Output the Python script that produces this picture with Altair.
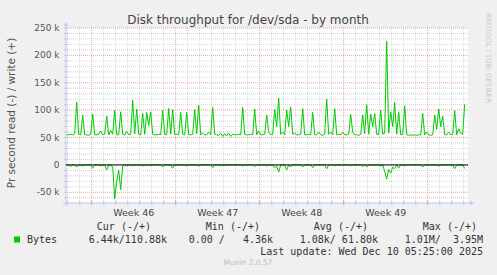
import altair as alt
import pandas as pd

# ---------------- data ----------------
title_text = "Disk throughput for /dev/sda - by month"
y_title = "Pr second read (-) / write (+)"
week_labels = ["Week 46", "Week 47", "Week 48", "Week 49"]
week_mid_hours = [84, 252, 420, 588]          # middle of each week (hours from week 46 start)
week_start_hours = [0, 168, 336, 504, 672]
day_hours = [h for h in range(-48, 745, 24) if h % 168 != 0]
y_major_values = [250000, 200000, 150000, 100000, 50000, 0, -50000]
y_major_labels = ["250 k", "200 k", "150 k", "100 k", "50 k", "0", "-50 k"]
y_minor_values = [v for v in range(-60000, 250001, 10000) if v % 50000 != 0]

# bytes/s in thousands, one sample every 4 hours, first sample 50 h before week 46 starts
write_k = [
    55, 55, 56, 55, 57, 115, 56, 55, 91, 55,
    55, 54, 56, 93, 55, 55, 56, 62, 55, 56,
    89, 55, 63, 56, 100, 55, 55, 97, 56, 55,
    61, 55, 56, 118, 57, 102, 56, 55, 94, 56,
    96, 72, 97, 56, 55, 55, 56, 55, 100, 56,
    55, 103, 56, 101, 55, 56, 55, 96, 56, 55,
    96, 55, 55, 56, 101, 57, 109, 55, 58, 55,
    55, 60, 55, 105, 56, 55, 54, 58, 52, 57,
    53, 58, 52, 56, 55, 55, 56, 55, 105, 56,
    55, 55, 56, 55, 102, 55, 62, 55, 55, 56,
    91, 60, 55, 56, 101, 70, 122, 56, 60, 55,
    100, 70, 106, 56, 58, 55, 55, 56, 103, 55,
    55, 56, 55, 96, 55, 55, 60, 55, 54, 56,
    120, 56, 60, 55, 103, 55, 56, 55, 60, 55,
    55, 56, 92, 60, 55, 55, 54, 56, 91, 57,
    110, 56, 93, 70, 94, 56, 55, 100, 56, 58,
    226, 58, 97, 70, 114, 56, 97, 55, 56, 108,
    55, 54, 55, 54, 55, 54, 55, 55, 94, 55,
    60, 55, 54, 55, 91, 65, 102, 70, 89, 55,
    55, 60, 55, 56, 99, 55, 66, 58, 56, 110.88,
]
read_k = [
    0, 0, -3, 0, 0, -4, 0, 0, -2, 0,
    0, 0, 0, -6, 0, 0, 0, -2, 0, 0,
    -9, 0, -1, -3, -62, -30, -10, -45, -2, 0,
    -2, 0, 0, -2, 0, -1, 0, 0, -2, 0,
    -1, 0, -1, 0, 0, 0, 0, 0, -4, 0,
    0, -1, 0, -6, 0, 0, 0, -1, 0, 0,
    -2, 0, 0, 0, -1, 0, -2, 0, 0, 0,
    0, 0, 0, -5, 0, 0, 0, -1, 0, -1,
    0, 0, 0, 0, 0, 0, 0, 0, -2, 0,
    0, 0, 0, 0, -3, 0, 0, 0, 0, 0,
    -2, 0, 0, 0, -5, -2, -13, 0, 0, 0,
    -9, 0, -4, 0, 0, 0, 0, 0, -4, 0,
    0, 0, 0, -5, 0, 0, 0, 0, 0, 0,
    -7, 0, 0, 0, -2, 0, 0, 0, 0, 0,
    0, 0, -2, 0, 0, 0, 0, 0, -3, 0,
    -4, 0, -1, 0, -1, 0, 0, -2, 0, -12,
    -26, -8, -15, -4, -7, 0, -6, 0, 0, -2,
    0, 0, 0, 0, 0, 0, 0, 0, -4, 0,
    0, 0, 0, 0, -1, 0, -2, 0, -1, 0,
    0, 0, 0, 0, -7, 0, 0, 0, 0, -6.44,
]

legend_headers = ["Cur (-/+)", "Min (-/+)", "Avg (-/+)", "Max (-/+)"]
legend_values = ["6.44k/110.88k", "0.00 /   4.36k", "1.08k/ 61.80k", "1.01M/  3.95M"]
series_name = "Bytes"
last_update = "Last update: Wed Dec 10 05:25:00 2025"
footer = "Munin 2.0.57"
watermark = "RRDTOOL / TOBI OETIKER"

# ---------------- layout ----------------
W, H = 402, 175
PAD_L, PAD_T, PAD_R, PAD_B = 66, 28, 29, 72
GREEN = "#00cc00"
AXIS_COL = "#c4c4ff"
MINOR_COL = "#d4d4d4"
MAJOR_COL = "#e9a3a3"
MONO = "DejaVu Sans Mono"
SANS = "DejaVu Sans"


def nb(s):
    return s.replace(" ", "\u00a0")


hours = [-50 + 4 * i for i in range(len(write_k))]
df = pd.DataFrame({
    "h": hours,
    "write": [v * 1000 for v in write_k],
    "read": [v * 1000 for v in read_k],
})

xscale = alt.Scale(domain=[-51.4, 752.6], nice=False, zero=False)
yscale = alt.Scale(domain=[-69500, 250000], nice=False, zero=False)
X = lambda f: alt.X(f, scale=xscale, axis=None)
Y = lambda f: alt.Y(f, scale=yscale, axis=None)

one = pd.DataFrame({"a": [0]})

# ---- grid ----
grid_y_minor = alt.Chart(pd.DataFrame({"v": y_minor_values})).mark_rule(
    color=MINOR_COL, strokeDash=[1, 1], strokeWidth=1).encode(y=Y("v:Q"))
grid_x_minor = alt.Chart(pd.DataFrame({"v": day_hours})).mark_rule(
    color=MINOR_COL, strokeDash=[1, 1], strokeWidth=1).encode(x=X("v:Q"))
grid_y_major = alt.Chart(pd.DataFrame({"v": y_major_values})).mark_rule(
    color=MAJOR_COL, strokeDash=[1, 1], strokeWidth=1).encode(y=Y("v:Q"))
grid_x_major = alt.Chart(pd.DataFrame({"v": week_start_hours})).mark_rule(
    color=MAJOR_COL, strokeDash=[1, 1], strokeWidth=1).encode(x=X("v:Q"))

# ---- axis lines, ticks, arrows ----
y_axis_line = alt.Chart(one).mark_rule(color=AXIS_COL, strokeWidth=1).encode(
    x=alt.value(0), y=alt.value(-4), y2=alt.value(H + 3))
x_axis_line = alt.Chart(one).mark_rule(color=AXIS_COL, strokeWidth=1).encode(
    x=alt.value(-3), x2=alt.value(W + 4), y=alt.value(H))
x_ticks_minor = alt.Chart(pd.DataFrame({"v": day_hours})).mark_rule(
    color="#c8c8c8", strokeWidth=1).encode(x=X("v:Q"), y=alt.value(H - 2), y2=alt.value(H + 2))
x_ticks_major = alt.Chart(pd.DataFrame({"v": week_start_hours})).mark_rule(
    color="#e08a8a", strokeWidth=1).encode(x=X("v:Q"), y=alt.value(H - 2), y2=alt.value(H + 2))
y_ticks = alt.Chart(pd.DataFrame({"v": y_minor_values + y_major_values})).mark_rule(
    color="#c8c8c8", strokeWidth=1).encode(y=Y("v:Q"), x=alt.value(-2), x2=alt.value(2))
arrow_up = alt.Chart(one).mark_point(
    shape="triangle-up", filled=True, size=22, color=AXIS_COL, opacity=1
).encode(x=alt.value(0), y=alt.value(-4))
arrow_right = alt.Chart(one).mark_point(
    shape="triangle-right", filled=True, size=22, color=AXIS_COL, opacity=1
).encode(x=alt.value(W + 4), y=alt.value(H))

# ---- y tick labels ----
y_labels = alt.Chart(pd.DataFrame({"v": y_major_values, "t": y_major_labels})).mark_text(
    font=SANS, fontSize=9, color="#555555", align="right", baseline="middle"
).encode(y=Y("v:Q"), x=alt.value(59.5 - PAD_L), text="t:N")

# ---- data lines ----
write_line = alt.Chart(df).mark_line(color=GREEN, strokeWidth=1, clip=True).encode(
    x=X("h:Q"), y=Y("write:Q"))
read_line = alt.Chart(df).mark_line(color=GREEN, strokeWidth=1, clip=True).encode(
    x=X("h:Q"), y=Y("read:Q"))
zero_rule = alt.Chart(pd.DataFrame({"z": [0]})).mark_rule(color="black", strokeWidth=1).encode(
    y=Y("z:Q"))

week_text = alt.Chart(pd.DataFrame({"h": week_mid_hours, "label": week_labels})).mark_text(
    font=SANS, fontSize=9.5, color="#444444", baseline="middle", align="center"
).encode(x=X("h:Q"), y=alt.value(213 - PAD_T), text="label:N")


def label(text, x, y, align, font, size, color, angle=0):
    return alt.Chart(one).mark_text(
        text=nb(text), font=font, fontSize=size, color=color, align=align,
        baseline="middle", angle=angle,
    ).encode(x=alt.value(x - PAD_L), y=alt.value(y - PAD_T))


text_layers = [
    label(title_text, 248, 19.5, "center", SANS, 12, "#444444"),
    label(y_title, 12, 113, "center", SANS, 10.5, "#555555", angle=270),
    label(watermark, 488, 58, "center", SANS, 7, "#c8c8c8", angle=90),
    label(series_name, 27, 239.5, "left", MONO, 10, "#333333"),
    label(last_update, 483, 251.7, "right", MONO, 10, "#333333"),
    label(footer, 248, 263.3, "center", SANS, 7.5, "#c0c0c0"),
]
for t, xr in zip(legend_headers, [151, 260, 368, 477]):
    text_layers.append(label(t, xr, 227, "right", MONO, 10, "#333333"))
for t, xr in zip(legend_values, [167, 273, 378, 483]):
    text_layers.append(label(t, xr, 239.5, "right", MONO, 10, "#333333"))

swatch = alt.Chart(one).mark_square(size=36, color=GREEN, opacity=1).encode(
    x=alt.value(17 - PAD_L), y=alt.value(239.5 - PAD_T)
)

chart = alt.layer(
    grid_y_minor, grid_x_minor, grid_y_major, grid_x_major,
    x_ticks_minor, x_ticks_major, y_ticks, y_axis_line, x_axis_line, arrow_up, arrow_right,
    y_labels, read_line, zero_rule, write_line, week_text,
    *text_layers, swatch,
).properties(
    width=W, height=H,
    autosize=alt.AutoSizeParams(type="none"),
    padding={"left": PAD_L, "top": PAD_T, "right": PAD_R, "bottom": PAD_B},
    background="#f0f0f0",
).configure_view(
    fill="white", stroke=None,
)

chart.save("out.html", embed_options={"renderer": "svg", "actions": False})
